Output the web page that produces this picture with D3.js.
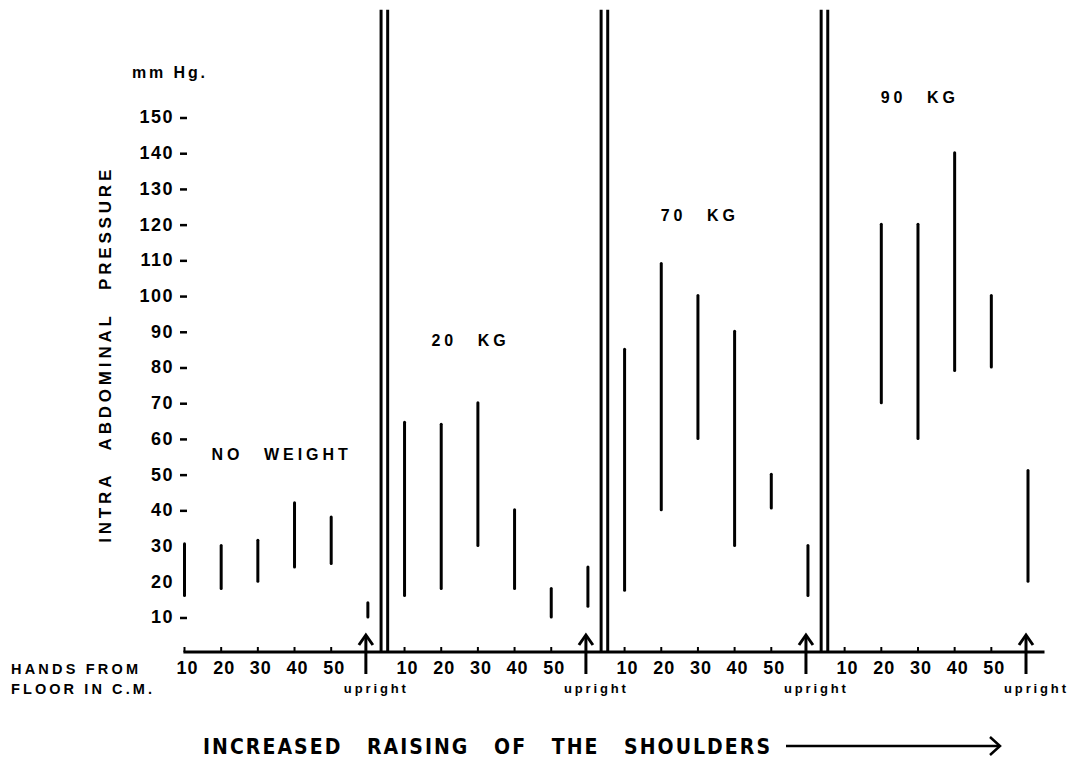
<!DOCTYPE html>
<html>
<head>
<meta charset="utf-8">
<script src="https://cdn.jsdelivr.net/npm/d3@7"></script>
<style>
    body { margin: 0; background: #fff; }
    text { font-family: "Liberation Sans", Arial, sans-serif; font-weight: bold; fill: #000; }
</style>
</head>
<body>
<div id="chart"></div>
<script>
// Data (mm Hg ranges, low / high)
var groups = ["NO WEIGHT", "20 KG", "70 KG", "90 KG"];
var positions = ["10", "20", "30", "40", "50", "upright"];
var positionCm = [10, 20, 30, 40, 50, 60];

var noWeightLow  = [16, 18, 20, 24, 25, 10];
var noWeightHigh = [30.5, 30, 31.5, 42, 38, 14];
var kg20Low  = [16, 18, 30, 18, 10, 13];
var kg20High = [64.5, 64, 70, 40, 18, 24];
var kg70Low  = [17.5, 40, 60, 30, 40.5, 16];
var kg70High = [85, 109, 100, 90, 50, 30];
var kg90Low  = [null, 70, 60, 79, 80, 20];
var kg90High = [null, 120, 120, 140, 100, 51];

var yTicks = d3.range(10, 151, 10);

// where the group names sit, in chart units (cm inside group, mm Hg)
var labelCm = [36.5, 28, 30.5, 30.5];
var labelMmHg = [55.5, 87.5, 122.5, 155.5];

var lows = [noWeightLow, kg20Low, kg70Low, kg90Low],
    highs = [noWeightHigh, kg20High, kg70High, kg90High];

// Basic size information
var width = 1070,
    height = 759,
    groupSpan = 60;

var svg = d3.select("#chart")
    .append("svg")
        .attr("width", width)
        .attr("height", height);

svg.append("rect")
    .attr("width", width)
    .attr("height", height)
    .attr("fill", "#fff");

// Scales: x runs over a continuous "cm" position, each group shifted by 60
var x = d3.scaleLinear()
    .domain([10, 240])
    .range([184.5, 1028]);

var y = d3.scaleLinear()
    .domain([0, 150])
    .range([652.7, 117]);

var axisY = y(0) - 0.7;

// Build the flat list of range bars
var bars = [];
groups.forEach(function(g, gi) {
    positionCm.forEach(function(cm, pi) {
        if (lows[gi][pi] == null) return;
        bars.push({pos: gi * groupSpan + cm, low: lows[gi][pi], high: highs[gi][pi]});
    });
});

// Y axis tick labels and dashes
var yAxis = svg.append("g").attr("class", "y-axis");

yAxis.selectAll("text.tick")
    .data(yTicks)
    .enter().append("text")
    .attr("class", "tick")
    .attr("x", 174)
    .attr("y", function(d) { return y(d); })
    .attr("dy", "0.36em")
    .attr("text-anchor", "end")
    .style("font-size", "18px")
    .style("letter-spacing", "1.5px")
    .text(function(d) { return d; });

// skip the dash where the first bar already sits on it
yAxis.selectAll("line.dash")
    .data(yTicks.filter(function(d) { return d > noWeightHigh[0] || d < noWeightLow[0]; }))
    .enter().append("line")
    .attr("class", "dash")
    .attr("x1", 180).attr("x2", 187)
    .attr("y1", function(d) { return y(d) + 1; })
    .attr("y2", function(d) { return y(d) + 1; })
    .attr("stroke", "#000")
    .attr("stroke-width", 2.5);

yAxis.append("text")
    .attr("x", 132)
    .attr("y", y(162.5))
    .attr("dy", "0.36em")
    .style("font-size", "16px")
    .attr("textLength", 73)
    .attr("lengthAdjust", "spacing")
    .text("mm Hg.");

yAxis.append("text")
    .attr("transform", "translate(111," + y(83) + ") rotate(-90)")
    .attr("text-anchor", "middle")
    .style("font-size", "17px")
    .style("word-spacing", "14px")
    .attr("textLength", 373)
    .attr("lengthAdjust", "spacing")
    .text("INTRA ABDOMINAL PRESSURE");

// Baseline
svg.append("line")
    .attr("x1", x(9.7)).attr("x2", x(244.5))
    .attr("y1", axisY).attr("y2", axisY)
    .attr("stroke", "#000")
    .attr("stroke-width", 3);

// Small ticks and labels under the baseline
var xTicks = [];
groups.forEach(function(g, gi) {
    positionCm.slice(0, 5).forEach(function(cm, pi) {
        xTicks.push({pos: gi * groupSpan + cm, label: positions[pi]});
    });
});

svg.selectAll("line.xtick")
    .data(xTicks)
    .enter().append("line")
    .attr("class", "xtick")
    .attr("x1", function(d) { return x(d.pos); })
    .attr("x2", function(d) { return x(d.pos); })
    .attr("y1", axisY).attr("y2", axisY - 5)
    .attr("stroke", "#000")
    .attr("stroke-width", 2);

svg.selectAll("text.xlabel")
    .data(xTicks)
    .enter().append("text")
    .attr("class", "xlabel")
    .attr("x", function(d) { return x(d.pos) + 3; })
    .attr("y", axisY + 16)
    .attr("dy", "0.36em")
    .attr("text-anchor", "middle")
    .style("font-size", "18px")
    .style("letter-spacing", "1px")
    .text(function(d) { return d.label; });

// Upright arrows + labels
var uprights = groups.map(function(g, gi) { return gi * groupSpan + positionCm[5]; });

var arrows = svg.selectAll("g.upright")
    .data(uprights)
    .enter().append("g")
    .attr("class", "upright")
    .attr("transform", function(d) { return "translate(" + (x(d) - 2) + "," + axisY + ")"; });

arrows.append("line")
    .attr("y1", 22).attr("y2", -16)
    .attr("stroke", "#000")
    .attr("stroke-width", 3);

arrows.append("path")
    .attr("d", "M-7,-7 L0,-17 L7,-7")
    .attr("fill", "none")
    .attr("stroke", "#000")
    .attr("stroke-width", 3);

arrows.append("text")
    .attr("x", 9)
    .attr("y", 38)
    .attr("dy", "0.2em")
    .attr("text-anchor", "middle")
    .style("font-size", "13px")
    .attr("textLength", 62)
    .attr("lengthAdjust", "spacing")
    .text(positions[5]);

// Double separator lines between the loads
var separators = [];
uprights.slice(0, 3).forEach(function(u) {
    separators.push(u + 3.6);
    separators.push(u + 5.4);
});

svg.selectAll("line.sep")
    .data(separators)
    .enter().append("line")
    .attr("class", "sep")
    .attr("x1", function(d) { return x(d); })
    .attr("x2", function(d) { return x(d); })
    .attr("y1", y(180)).attr("y2", axisY)
    .attr("stroke", "#000")
    .attr("stroke-width", 3);

// Range bars
svg.selectAll("line.bar")
    .data(bars)
    .enter().append("line")
    .attr("class", "bar")
    .attr("x1", function(d) { return x(d.pos); })
    .attr("x2", function(d) { return x(d.pos); })
    .attr("y1", function(d) { return y(d.high); })
    .attr("y2", function(d) { return y(d.low); })
    .attr("stroke", "#000")
    .attr("stroke-width", 3)
    .attr("stroke-linecap", "round");

// Group names
svg.selectAll("text.group")
    .data(groups)
    .enter().append("text")
    .attr("class", "group")
    .attr("x", function(d, i) { return x(i * groupSpan + labelCm[i]); })
    .attr("y", function(d, i) { return y(labelMmHg[i]); })
    .attr("dy", "0.36em")
    .attr("text-anchor", "middle")
    .style("font-size", "16px")
    .style("letter-spacing", "4px")
    .style("word-spacing", "12px")
    .text(function(d) { return d; });

// Left side caption
svg.append("text")
    .attr("x", 11).attr("y", axisY + 17)
    .attr("dy", "0.36em")
    .style("font-size", "14.5px")
    .attr("textLength", 127)
    .attr("lengthAdjust", "spacing")
    .text("HANDS  FROM");

svg.append("text")
    .attr("x", 11).attr("y", axisY + 37)
    .attr("dy", "0.36em")
    .style("font-size", "14.5px")
    .attr("textLength", 141)
    .attr("lengthAdjust", "spacing")
    .text("FLOOR  IN  C.M.");

// Bottom title with arrow
svg.append("text")
    .attr("x", 203).attr("y", 746)
    .attr("dy", "0.36em")
    .style("font-family", "'DejaVu Sans Condensed', 'DejaVu Sans', sans-serif")
    .style("font-size", "21px")
    .style("word-spacing", "16px")
    .attr("textLength", 567)
    .attr("lengthAdjust", "spacing")
    .text("INCREASED RAISING OF THE SHOULDERS");

svg.append("line")
    .attr("x1", 786).attr("x2", 999)
    .attr("y1", 746).attr("y2", 746)
    .attr("stroke", "#000")
    .attr("stroke-width", 2.5);

svg.append("path")
    .attr("d", "M990,737 L1000,746 L990,755")
    .attr("fill", "none")
    .attr("stroke", "#000")
    .attr("stroke-width", 2.5);
</script>
</body>
</html>
